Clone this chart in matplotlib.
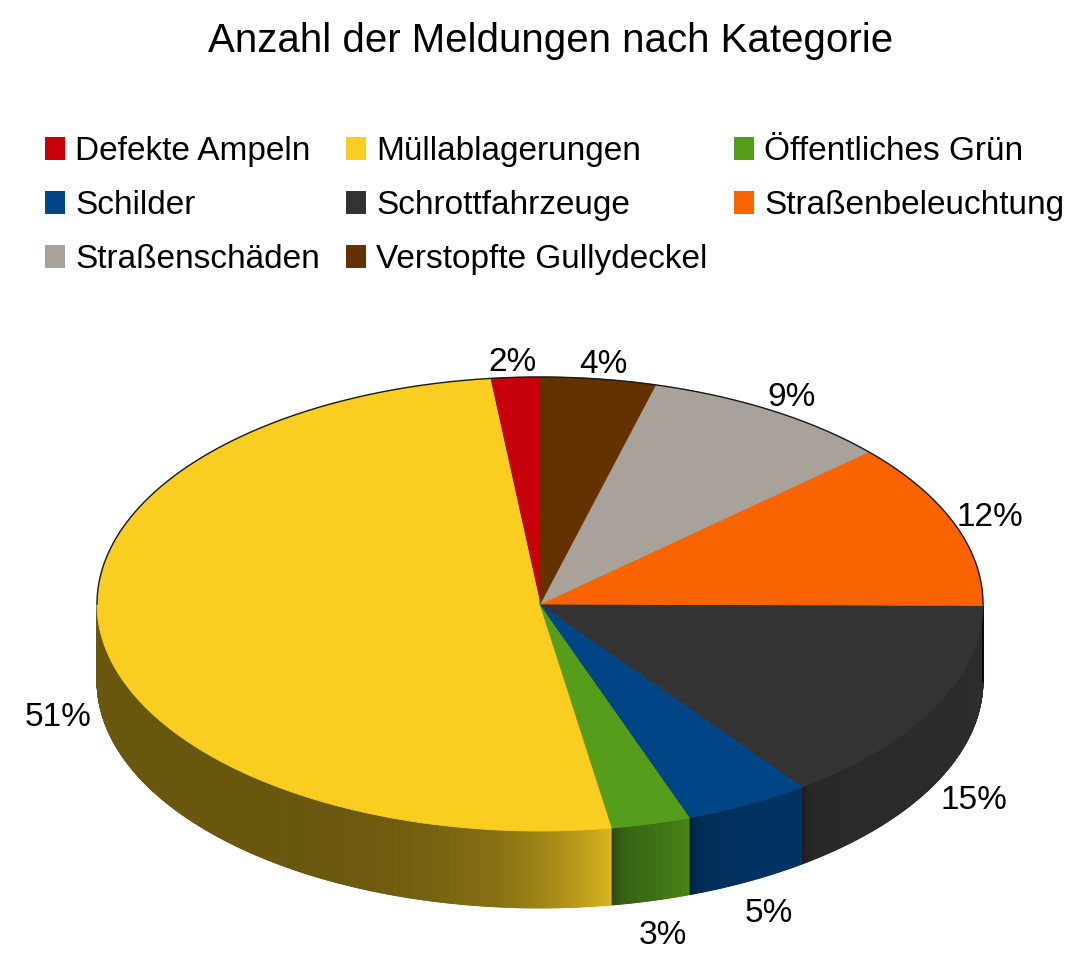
import numpy as np
import matplotlib
matplotlib.use('Agg')
import matplotlib.pyplot as plt
from matplotlib.patches import Polygon, Patch
from matplotlib.collections import PolyCollection
from matplotlib.colors import to_rgb

plt.rcParams['font.family'] = ['Liberation Sans', 'DejaVu Sans']

# ---------------- data ----------------
title = "Anzahl der Meldungen nach Kategorie"
categories = ["Defekte Ampeln", "Müllablagerungen", "Öffentliches Grün", "Schilder",
              "Schrottfahrzeuge", "Straßenbeleuchtung", "Straßenschäden",
              "Verstopfte Gullydeckel"]
shares = [1.8, 50.8, 2.9, 4.6, 14.8, 11.8, 9.1, 4.2]
colors = ['#C5000B', '#F9CE21', '#579D1C', '#004586', '#333333', '#F96400',
          '#A8A29B', '#633200']

# side shading style (lo, hi, power) per slice
side_style = [(0.6, 0.8, 1), (0.42, 0.88, 5), (0.62, 0.84, 1.5), (0.66, 0.74, 1),
              (0.80, 0.86, 1), (0.12, 0.12, 1), (0.7, 0.8, 1), (0.7, 0.8, 1)]

W, H = 1092, 957
fig = plt.figure(figsize=(W / 100, H / 100), dpi=100)
ax = fig.add_axes([0, 0, 1, 1])
ax.set_xlim(0, W)
ax.set_ylim(H, 0)
ax.axis('off')

cx, cy, rx, ry, depth = 540, 604, 443, 227, 77

vals = np.array(shares, dtype=float)
fr = vals / vals.sum()
starts = 90 + 360 * np.concatenate([[0], np.cumsum(fr)[:-1]])
ends = starts + 360 * fr


def ex(t):
    return cx + rx * np.cos(np.radians(t))


def ey(t):
    return cy - ry * np.sin(np.radians(t))


# ---------------- side walls ----------------
polys, pcols = [], []
for i, (s, e) in enumerate(zip(starts, ends)):
    a, b = max(s, 180), min(e, 360)
    if b <= a:
        continue
    base = np.array(to_rgb(colors[i]))
    lo, hi, pw = side_style[i]
    n = max(2, int((b - a) / 0.15))
    ts = np.linspace(a, b, n + 1)
    xa, xb = ex(a), ex(b)
    for t1, t2 in zip(ts[:-1], ts[1:]):
        tm = 0.5 * (t1 + t2)
        u = (ex(tm) - xa) / max(xb - xa, 1e-6)
        f = lo + (hi - lo) * np.clip(u, 0, 1) ** pw
        if a > 180.01:
            f *= 1 - 0.35 * np.exp(-(ex(tm) - xa) / 5.0)
        c = np.clip(base * f, 0, 1)
        polys.append([(ex(t1), ey(t1)), (ex(t2), ey(t2)),
                      (ex(t2), ey(t2) + depth), (ex(t1), ey(t1) + depth)])
        pcols.append(c)
ax.add_collection(PolyCollection(polys, facecolors=pcols, edgecolors=pcols,
                                 linewidths=0.6, zorder=1))

# ---------------- top surface ----------------
for i, (s, e) in enumerate(zip(starts, ends)):
    ts = np.linspace(s, e, max(3, int((e - s) * 3)))
    pts = [(cx, cy)] + list(zip(ex(ts), ey(ts)))
    ax.add_patch(Polygon(pts, closed=True, facecolor=colors[i], edgecolor=colors[i],
                         linewidth=0.6, zorder=2))

# back rim outline
tr = np.linspace(0, 180, 400)
ax.plot(ex(tr), ey(tr), color='#1a1a1a', lw=1.0, zorder=3)

# ---------------- percentage labels ----------------
total = vals.sum()
for i, (s, e) in enumerate(zip(starts, ends)):
    m = np.radians(0.5 * (s + e))
    if np.sin(m) >= 0:
        lx = cx + (rx + 38) * np.cos(m)
        ly = cy - (ry + 15) * np.sin(m)
    else:
        lx = cx + (rx + 44) * np.cos(m)
        ly = cy - (ry + 36) * np.sin(m) + depth
    ax.text(lx, ly, f"{round(vals[i] / total * 100):.0f}%", fontsize=24,
            ha='center', va='center', color='black', zorder=4)

# ---------------- title ----------------
ax.text(551, 52, title, fontsize=29, ha='center', va='baseline', color='black')

# ---------------- legend ----------------
handles = [Patch(facecolor=c, edgecolor='none') for c in colors]
order = [0, 3, 6, 1, 4, 7, 2, 5]
fig.legend([handles[k] for k in order], [categories[k] for k in order],
           loc='upper left', bbox_to_anchor=(45 / W, 1 - 136 / H), ncol=3,
           frameon=False, fontsize=24, handlelength=0.6, handleheight=0.7,
           handletextpad=0.3, columnspacing=0.8, borderpad=0, borderaxespad=0,
           labelspacing=0.69)

fig.savefig('out.png', dpi=100)
